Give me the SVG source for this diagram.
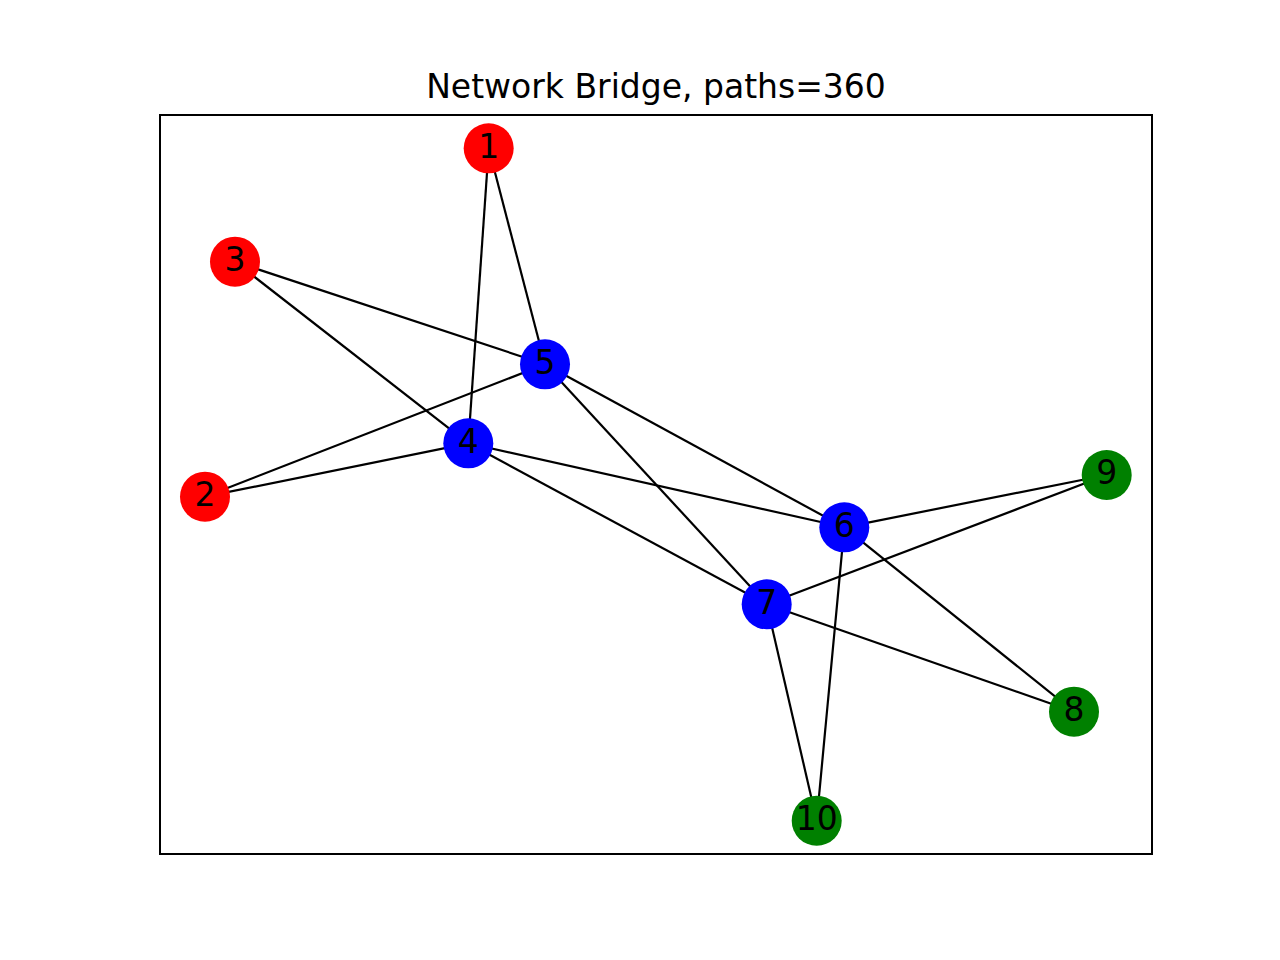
<svg xmlns="http://www.w3.org/2000/svg" width="1280" height="960" viewBox="0 0 1280 960">
<style>
.edge{stroke:#000;stroke-width:2.2;fill:none}
.node circle{stroke:none}
.lbl{font-family:"DejaVu Sans",sans-serif;font-size:33px;text-anchor:middle;fill:#000}
.r{fill:#ff0000}.b{fill:#0000ff}.g{fill:#008000}
</style>
<rect width="1280" height="960" fill="#fff"/>
<text x="656" y="98" class="lbl" style="font-size:33px">Network Bridge, paths=360</text>
<rect x="160" y="115" width="992" height="739" fill="none" stroke="#000" stroke-width="2"/>
<g id="edges">
<line class="edge" x1="488.7" y1="148.3" x2="545" y2="364.3"/>
<line class="edge" x1="488.7" y1="148.3" x2="468.3" y2="443.3"/>
<line class="edge" x1="235" y1="261.7" x2="545" y2="364.3"/>
<line class="edge" x1="235" y1="261.7" x2="468.3" y2="443.3"/>
<line class="edge" x1="205" y1="496.7" x2="545" y2="364.3"/>
<line class="edge" x1="205" y1="496.7" x2="468.3" y2="443.3"/>
<line class="edge" x1="468.3" y1="443.3" x2="844.3" y2="527.3"/>
<line class="edge" x1="468.3" y1="443.3" x2="766.7" y2="604.3"/>
<line class="edge" x1="545" y1="364.3" x2="844.3" y2="527.3"/>
<line class="edge" x1="545" y1="364.3" x2="766.7" y2="604.3"/>
<line class="edge" x1="844.3" y1="527.3" x2="1106.7" y2="475"/>
<line class="edge" x1="844.3" y1="527.3" x2="1074" y2="711.7"/>
<line class="edge" x1="844.3" y1="527.3" x2="816.7" y2="820.7"/>
<line class="edge" x1="766.7" y1="604.3" x2="1106.7" y2="475"/>
<line class="edge" x1="766.7" y1="604.3" x2="1074" y2="711.7"/>
<line class="edge" x1="766.7" y1="604.3" x2="816.7" y2="820.7"/>
</g>
<g id="n1" class="node"><circle class="r" cx="488.7" cy="148.3" r="25"/><text class="lbl" x="488.7" y="157.7">1</text></g>
<g id="n2" class="node"><circle class="r" cx="205" cy="496.7" r="25"/><text class="lbl" x="205" y="506.1">2</text></g>
<g id="n3" class="node"><circle class="r" cx="235" cy="261.7" r="25"/><text class="lbl" x="235" y="271.1">3</text></g>
<g id="n4" class="node"><circle class="b" cx="468.3" cy="443.3" r="25"/><text class="lbl" x="468.3" y="452.7">4</text></g>
<g id="n5" class="node"><circle class="b" cx="545" cy="364.3" r="25"/><text class="lbl" x="545" y="373.7">5</text></g>
<g id="n6" class="node"><circle class="b" cx="844.3" cy="527.3" r="25"/><text class="lbl" x="844.3" y="536.7">6</text></g>
<g id="n7" class="node"><circle class="b" cx="766.7" cy="604.3" r="25"/><text class="lbl" x="766.7" y="613.7">7</text></g>
<g id="n8" class="node"><circle class="g" cx="1074" cy="711.7" r="25"/><text class="lbl" x="1074" y="721.1">8</text></g>
<g id="n9" class="node"><circle class="g" cx="1106.7" cy="475" r="25"/><text class="lbl" x="1106.7" y="484.4">9</text></g>
<g id="n10" class="node"><circle class="g" cx="816.7" cy="820.7" r="25"/><text class="lbl" x="816.7" y="830.1">10</text></g>
</svg>
